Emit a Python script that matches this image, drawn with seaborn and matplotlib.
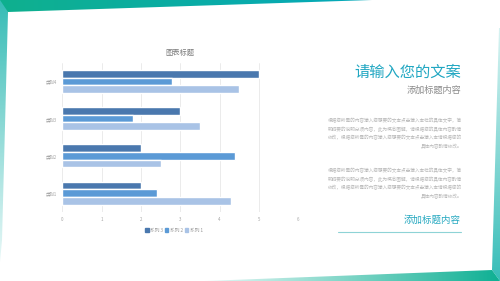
import numpy as np
import pandas as pd
import matplotlib
matplotlib.use("Agg")
import matplotlib.pyplot as plt
import seaborn as sns
from matplotlib.patches import Polygon, Patch
from matplotlib.colors import LinearSegmentedColormap

# datos del grafico
categorias = ["类别4", "类别3", "类别2", "类别1"]
series = ["系列 3", "系列 2", "系列 1"]
valores_s3 = [5, 3, 2, 2]
valores_s2 = [2.8, 1.8, 4.4, 2.4]
valores_s1 = [4.5, 3.5, 2.5, 4.3]
ticks_x = [0, 1, 2, 3, 4, 5, 6]

colores = ["#4a78ae", "#5b9ad6", "#a9c3e6"]

titulo = "请输入您的文案"
subtitulo = "添加标题内容"
parrafo = ["根据您所需的内容输入您想要的文本点击输入本栏的具体文字，简",
           "明扼要的说明分项内容，此为概念图解，请根据您的具体内容酌情",
           "修改，根据您所需的内容输入您想要的文本点击输入本请根据您的",
           "具体内容酌情修改。"]

df = pd.DataFrame({
    "cat": categorias * 3,
    "serie": [series[0]] * 4 + [series[1]] * 4 + [series[2]] * 4,
    "valor": valores_s3 + valores_s2 + valores_s1,
})

sns.set_style("white")
plt.rcParams["font.family"] = ["Noto Sans CJK SC", "DejaVu Sans"]

fig = plt.figure(figsize=(5, 2.81), dpi=100)
fig.patch.set_facecolor("white")

# === fondo decorativo (coordenadas en pixeles) ===
bg = fig.add_axes([0, 0, 1, 1], zorder=0)
bg.set_xlim(0, 500)
bg.set_ylim(281, 0)
bg.axis("off")


def grad_poly(ax, pts, c1, c2, horizontal=True):
    poly = Polygon(pts, closed=True, facecolor="none", edgecolor="none")
    ax.add_patch(poly)
    xs = [p[0] for p in pts]
    ys = [p[1] for p in pts]
    cmap = LinearSegmentedColormap.from_list("g", [c1, c2])
    g = np.linspace(0, 1, 256)
    g = g.reshape(1, -1) if horizontal else g.reshape(-1, 1)
    im = ax.imshow(g, cmap=cmap, extent=[min(xs), max(xs), max(ys), min(ys)],
                   aspect="auto", origin="upper", interpolation="bilinear")
    im.set_clip_path(poly)


grad_poly(bg, [(0, 0), (372, 0), (8, 12), (0, 11)], "#0fb08e", "#05a9bb")
grad_poly(bg, [(0, 0), (8, 12), (2, 240), (0, 262)], "#36bcb6", "#e8f8f7", horizontal=False)
grad_poly(bg, [(499, 28), (500, 28), (500, 281), (492, 270)], "#d8f3f2", "#36bdb8", horizontal=False)
grad_poly(bg, [(205, 281), (492, 270), (500, 281)], "#e6f8f6", "#0fb094")

# === grafico de barras ===
ax = fig.add_axes([0.1246, 0.2466, 0.472, 0.530], zorder=1)
sns.barplot(data=df, y="cat", x="valor", hue="serie", order=categorias,
            hue_order=series, palette=colores, orient="h", width=0.62,
            saturation=1, legend=False, ax=ax)
ax.set_xlim(0, 6)
ax.set_ylim(3.5, -0.5)
ax.set_xticks(ticks_x)
ax.set_xticklabels([str(t) for t in ticks_x])
ax.tick_params(axis="both", labelsize=3.2, colors="#a5a5a5", length=0, pad=4)
ax.grid(axis="x", color="#e8e8e8", linewidth=0.6)
ax.set_axisbelow(True)
for s in ax.spines.values():
    s.set_visible(False)
ax.set_xlabel("")
ax.set_ylabel("")
ax.set_title("图表标题", fontsize=5.2, color="#7a7a7a", pad=6)

handles = [Patch(color=c, label=s) for c, s in zip(colores, series)]
fig.legend(handles=handles, loc="center", bbox_to_anchor=(174 / 500, 1 - 230 / 281),
           ncol=3, frameon=False, fontsize=3.4, handlelength=0.7, handleheight=0.7,
           handletextpad=0.3, columnspacing=0.4, labelcolor="#999999")

# === textos de la derecha ===
def px(x, y):
    return x / 500, 1 - y / 281


fig.text(*px(461, 72), titulo, fontsize=11, color="#21a7c2", ha="right", va="center")
fig.text(*px(461, 90), subtitulo, fontsize=6.6, color="#8a8a8a", ha="right", va="center")

for y0 in (120.7, 170.7):
    for i, linea in enumerate(parrafo):
        fig.text(*px(462, y0 + i * 8.6), linea, fontsize=3.35, color="#b8b8b8",
                 ha="right", va="center")

fig.text(*px(461, 220), subtitulo, fontsize=6.8, color="#24a8c0", ha="right", va="center")
bg.plot([338, 461], [232.3, 232.3], color="#8ed3d6", linewidth=0.8)

plt.savefig("out.png", dpi=100, facecolor="white")
